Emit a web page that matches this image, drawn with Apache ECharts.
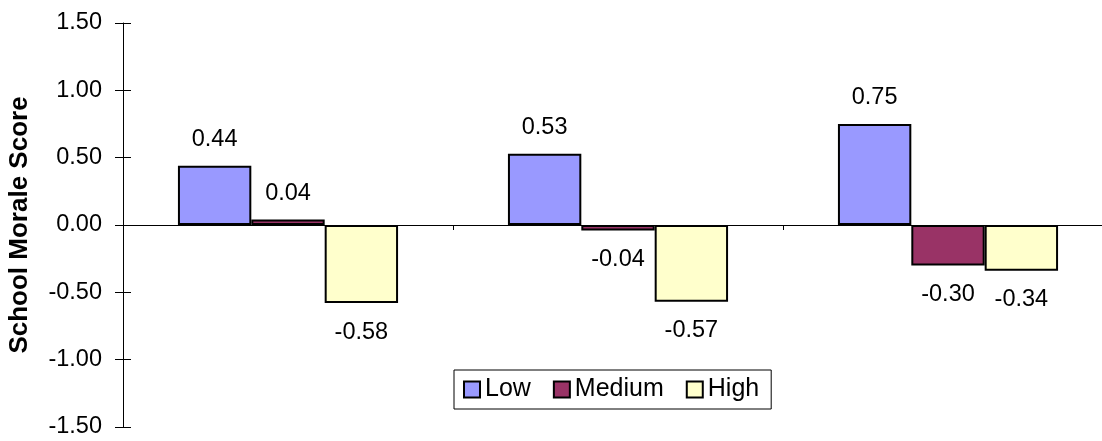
<!DOCTYPE html>
<html>
<head>
<meta charset="utf-8">
<script src="https://cdn.jsdelivr.net/npm/echarts@6/dist/echarts.min.js"></script>
<style>
  html, body { margin: 0; padding: 0; background: #fff; }
  #chart { width: 1102px; height: 441px; }
</style>
</head>
<body>
<div id="chart"></div>
<script>
// Groups along the x axis (not labelled on the chart)
const categories = ['A', 'B', 'C'];

// School morale score per group, by level
const lowValues = [0.44, 0.53, 0.75];
const mediumValues = [0.04, -0.04, -0.30];
const highValues = [-0.58, -0.57, -0.34];

const seriesNames = ['Low', 'Medium', 'High'];
const seriesColors = ['#9999FF', '#993366', '#FFFFCC'];

const yMin = -1.5, yMax = 1.5, yStep = 0.5;
const FONT = '"Liberation Sans", Arial, sans-serif';

// Value labels sit above positive bars and below negative ones
function withLabels(values) {
  return values.map(v => ({
    value: v,
    label: v >= 0 ? { position: 'top', distance: 14 } : { position: 'bottom', distance: 17 }
  }));
}

function barSeries(name, values, color) {
  return {
    name: name,
    type: 'bar',
    data: withLabels(values),
    barGap: '0%',
    barCategoryGap: '33.3%',
    itemStyle: { color: color, borderColor: '#000', borderWidth: 2 },
    label: {
      show: true,
      color: '#000',
      fontFamily: FONT,
      fontSize: 23.5,
      formatter: p => p.value.toFixed(2)
    },
    emphasis: { disabled: true }
  };
}

const chart = echarts.init(document.getElementById('chart'), null, { renderer: 'canvas' });

chart.setOption({
  animation: false,
  backgroundColor: '#fff',
  textStyle: { fontFamily: FONT },
  grid: { left: 123, right: -11, top: 23, bottom: 14, outerBoundsMode: 'none' },
  legend: {
    data: seriesNames,
    left: 454,
    top: 370,
    orient: 'horizontal',
    icon: 'rect',
    itemWidth: 16,
    itemHeight: 16,
    itemGap: 22,
    padding: [7, 12, 7, 9],
    borderColor: '#000',
    borderWidth: 1,
    textStyle: { fontFamily: FONT, fontSize: 25, color: '#000' },
    selectedMode: false
  },
  xAxis: {
    type: 'category',
    data: categories,
    boundaryGap: true,
    axisLine: { onZero: true, lineStyle: { color: '#000', width: 1 } },
    axisTick: { show: true, length: 5, lineStyle: { color: '#000' } },
    axisLabel: { show: false },
    splitLine: { show: false }
  },
  yAxis: [
    {
      type: 'value',
      min: yMin,
      max: yMax,
      interval: yStep,
      position: 'left',
      name: 'School Morale Score',
      nameLocation: 'middle',
      nameRotate: 90,
      nameGap: 90,
      nameTextStyle: { fontFamily: FONT, fontSize: 26, fontWeight: 'bold', color: '#000' },
      axisLine: { show: true, lineStyle: { color: '#000', width: 1 } },
      axisTick: { show: true, inside: false, length: 8, lineStyle: { color: '#000' } },
      axisLabel: {
        margin: 21,
        color: '#000',
        fontFamily: FONT,
        fontSize: 23.5,
        formatter: v => v.toFixed(2)
      },
      splitLine: { show: false }
    },
    {
      // Inner half of the cross ticks on the value axis
      type: 'value',
      min: yMin,
      max: yMax,
      interval: yStep,
      position: 'left',
      offset: 0,
      axisLine: { show: false },
      axisTick: { show: true, inside: true, length: 8, lineStyle: { color: '#000' } },
      axisLabel: { show: false },
      splitLine: { show: false }
    }
  ],
  series: [
    barSeries(seriesNames[0], lowValues, seriesColors[0]),
    barSeries(seriesNames[1], mediumValues, seriesColors[1]),
    barSeries(seriesNames[2], highValues, seriesColors[2])
  ]
});
</script>
</body>
</html>
